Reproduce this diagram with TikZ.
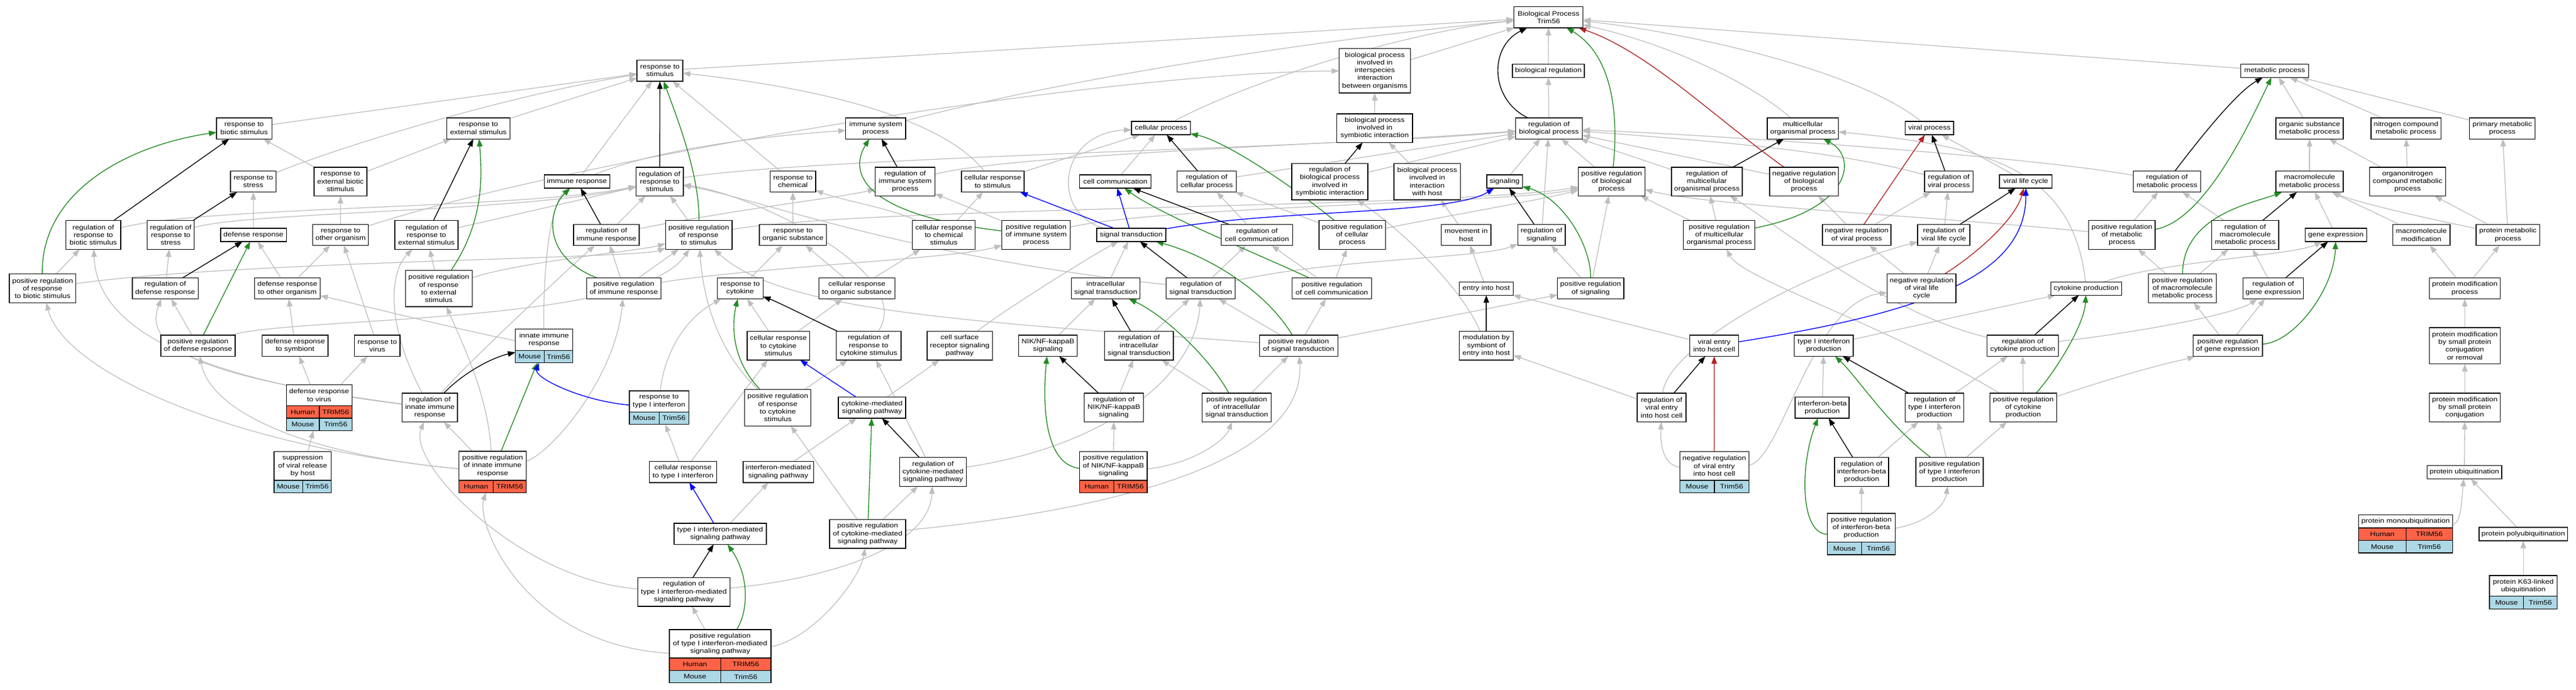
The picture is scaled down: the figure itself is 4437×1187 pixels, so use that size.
\documentclass[tikz,border=0pt]{standalone}
\usepackage{fontspec}
\newfontfamily\gofont{Liberation Sans}[FakeStretch=1.16]
\usetikzlibrary{arrows.meta}
\definecolor{egray}{RGB}{190,190,190}
\definecolor{egreen}{RGB}{34,139,34}
\definecolor{ered}{RGB}{178,34,34}
\definecolor{eblue}{RGB}{0,0,255}
\definecolor{human}{RGB}{255,99,71}
\definecolor{mouse}{RGB}{173,216,230}
\pgfdeclarelayer{edges}
\pgfsetlayers{edges,main}
\tikzset{
  gofontset/.style={font=\gofont\fontsize{11.2}{13.3}\selectfont},
  gobox/.style={draw=black, line width=1.3pt, fill=white, inner sep=0pt, outer sep=0pt, align=center, gofontset},
  gotext/.style={inner sep=0pt, align=center, gofontset},
  gocell/.style={draw=black, line width=1.3pt, inner sep=0pt, outer sep=0pt, minimum height=21.4pt, gofontset},
  ge/.style={draw=egray, line width=1.3pt, -{Triangle[length=13pt,width=9.5pt]}},
  ke/.style={ge, draw=black, line width=1.4pt},
  gre/.style={ge, draw=egreen, line width=1.4pt},
  re/.style={ge, draw=ered, line width=1.4pt},
  be/.style={ge, draw=eblue, line width=1.4pt}
}
\newcommand\GOnode[6]{\node[gobox,minimum width=#4pt,minimum height=#5pt] (#1) at (#2,#3) {#6};}
\newcommand\GOtab[7]{\node[gobox,minimum width=#4pt,minimum height=#5pt] (#1) at (#2,#3) {};\node[gotext] at ([yshift=-#6pt]#1.north) {#7};}
\newcommand\GOrow[7]{\node[gocell,fill=#5,minimum width=#3pt,anchor=north west] at ([yshift=-#2pt]#1.north west) {#6};\node[gocell,fill=#5,minimum width=#4pt,anchor=north east] at ([yshift=-#2pt]#1.north east) {#7};}
\begin{document}
\begin{tikzpicture}[x=1pt,y=-1pt]
\useasboundingbox (0,0) rectangle (4437,1187);
% rank 0-1
\GOnode{root}{2667.2}{29.7}{119}{36.3}{Biological Process\\Trim56}
\GOnode{rstim}{1136.6}{121.7}{79}{36.8}{response to\\stimulus}
\GOnode{bpinter}{2368}{121.7}{122.7}{76.6}{biological process\\involved in\\interspecies\\interaction\\between organisms}
\GOnode{bioreg}{2666.9}{121.9}{124.1}{23}{biological regulation}
\GOnode{metab}{3918}{121.9}{116.5}{23}{metabolic process}
% rank 2
\GOnode{rbs}{420.5}{221}{95.3}{36.3}{response to\\biotic stimulus}
\GOnode{rext}{824}{221}{109.5}{36.3}{response to\\external stimulus}
\GOnode{isp}{1508.4}{221}{103.2}{36.3}{immune system\\process}
\GOnode{cellproc}{1999.7}{220.6}{101.5}{23}{cellular process}
\GOnode{bpsym}{2367.7}{220.6}{130.7}{49.5}{biological process\\involved in\\symbiotic interaction}
\GOnode{rbp}{2668}{221}{115.1}{36.3}{regulation of\\biological process}
\GOnode{multi}{3105.4}{221}{122.6}{36.3}{multicellular\\organismal process}
\GOnode{viralproc}{3323.3}{220.6}{83.4}{23}{viral process}
\GOnode{osmeta}{3978}{221}{116}{36.3}{organic substance\\metabolic process}
\GOnode{ncmeta}{4144.1}{221}{120.4}{36.3}{nitrogen compound\\metabolic process}
\GOnode{primeta}{4310}{221}{113.5}{36.3}{primary metabolic\\process}
% rank 3
\GOnode{rstress}{436.3}{312.6}{78.8}{36.3}{response to\\stress}
\GOnode{rebs}{586.4}{312.6}{91.1}{49.5}{response to\\external biotic\\stimulus}
\GOnode{immr}{993.8}{312.6}{113.2}{23}{immune response}
\GOnode{rrstim}{1136.3}{312.6}{81.2}{49.5}{regulation of\\response to\\stimulus}
\GOnode{rchem}{1365.7}{312.6}{78.4}{36.3}{response to\\chemical}
\GOnode{risp}{1559.1}{312.6}{102.8}{49.5}{regulation of\\immune system\\process}
\GOnode{crstim}{1709.9}{312.6}{108.1}{36.3}{cellular response\\to stimulus}
\GOnode{cellcomm}{1921}{312.6}{122.7}{23}{cell communication}
\GOnode{rcellproc}{2078.5}{312.6}{101.5}{36.3}{regulation of\\cellular process}
\GOnode{rbpsym}{2290.5}{312.6}{131.2}{62.8}{regulation of\\biological process\\involved in\\symbiotic interaction}
\GOnode{bphost}{2458.3}{312.6}{114.7}{62.8}{biological process\\involved in\\interaction\\with host}
\GOnode{signaling}{2591.6}{312.6}{61.4}{23}{signaling}
\GOnode{prbp}{2775.9}{312.6}{114.7}{49.5}{positive regulation\\of biological\\process}
\GOnode{rmulti}{2940}{312.6}{122}{49.5}{regulation of\\multicellular\\organismal process}
\GOnode{nrbp}{3107.4}{312.6}{118.7}{49.5}{negative regulation\\of biological\\process}
\GOnode{rviralproc}{3356.7}{312.6}{83.4}{36.3}{regulation of\\viral process}
\GOnode{vlc}{3489.3}{312.6}{90.6}{23}{viral life cycle}
\GOnode{rmeta}{3732.4}{312.6}{116}{36.3}{regulation of\\metabolic process}
\GOnode{mmeta}{3978}{312.6}{116}{36.3}{macromolecule\\metabolic process}
\GOnode{onmeta}{4146.8}{312.6}{130.7}{49.5}{organonitrogen\\compound metabolic\\process}
% rank 4
\GOnode{rrbs}{160.7}{404.5}{94.8}{49.5}{regulation of\\response to\\biotic stimulus}
\GOnode{rrstress}{294}{404.5}{81.2}{49.5}{regulation of\\response to\\stress}
\GOnode{defr}{436.6}{404.5}{113.3}{23}{defense response}
\GOnode{rtoo}{586.6}{404.5}{96.2}{36.3}{response to\\other organism}
\GOnode{rrext}{734.5}{404.5}{109}{49.5}{regulation of\\response to\\external stimulus}
\GOnode{rimm}{1044.5}{404.5}{112.8}{36.3}{regulation of\\immune response}
\GOnode{prstim}{1203.6}{404.5}{114.7}{49.5}{positive regulation\\of response\\to stimulus}
\GOnode{rorg}{1365.9}{404.5}{115.6}{36.3}{response to\\organic substance}
\GOnode{crchem}{1625.6}{404.5}{107.6}{49.5}{cellular response\\to chemical\\stimulus}
\GOnode{prisp}{1784.7}{404.5}{118}{49.5}{positive regulation\\of immune system\\process}
\GOnode{sigtrans}{1948.5}{404.5}{118.9}{23}{signal transduction}
\GOnode{rcellcomm}{2165}{404.5}{122.6}{36.3}{regulation of\\cell communication}
\GOnode{prcellproc}{2329.2}{404.5}{114.2}{49.5}{positive regulation\\of cellular\\process}
\GOnode{movhost}{2525.3}{404.5}{85.4}{36.3}{movement in\\host}
\GOnode{rsig}{2655.1}{404.5}{81.6}{36.3}{regulation of\\signaling}
\GOnode{prmulti}{2961.3}{404.5}{123}{49.5}{positive regulation\\of multicellular\\organismal process}
\GOnode{nrviralproc}{3198}{404.5}{117.8}{36.3}{negative regulation\\of viral process}
\GOnode{rvlc}{3348}{404.5}{90.2}{36.3}{regulation of\\viral life cycle}
\GOnode{prmeta}{3654.9}{404.5}{114.3}{49.5}{positive regulation\\of metabolic\\process}
\GOnode{rmmeta}{3867.2}{404.5}{115.5}{49.5}{regulation of\\macromolecule\\metabolic process}
\GOnode{geneexp}{4023.3}{404.5}{105.7}{23}{gene expression}
\GOnode{mmod}{4170.5}{404.5}{98.8}{36.3}{macromolecule\\modification}
\GOnode{protmeta}{4319.7}{404.5}{109.6}{36.3}{protein metabolic\\process}
% rank 5
\GOnode{prrbs}{73.4}{496.5}{114.7}{49.5}{positive regulation\\of response\\to biotic stimulus}
\GOnode{rdr}{284.6}{496.5}{113.3}{36.3}{regulation of\\defense response}
\GOnode{drtoo}{495}{496.5}{113.3}{36.3}{defense response\\to other organism}
\GOnode{prrext}{755.8}{496.7}{114.7}{62.8}{positive regulation\\of response\\to external\\stimulus}
\GOnode{primm}{1074.5}{496.5}{128.4}{36.3}{positive regulation\\of immune response}
\GOnode{rcyt}{1274.8}{496.5}{78.8}{36.3}{response to\\cytokine}
\GOnode{cror}{1475.9}{496.5}{130.7}{36.3}{cellular response\\to organic substance}
\GOnode{intrasig}{1904.6}{496.5}{118}{36.3}{intracellular\\signal transduction}
\GOnode{rsigtrans}{2068.3}{496.5}{119}{36.3}{regulation of\\signal transduction}
\GOnode{prcellcomm}{2294}{496.5}{137.3}{36.3}{positive regulation\\of cell communication}
\GOnode{entryhost}{2560}{496.7}{93.4}{23}{entry into host}
\GOnode{prsig}{2739.8}{496.5}{114.2}{36.3}{positive regulation\\of signaling}
\GOnode{nrvlc}{3309.8}{496.5}{118.3}{49.5}{negative regulation\\of viral life\\cycle}
\GOnode{cytprod}{3593.3}{496.7}{122.2}{23}{cytokine production}
\GOnode{prmmeta}{3759}{496.5}{116.5}{49.5}{positive regulation\\of macromolecule\\metabolic process}
\GOnode{rgeneexp}{3915.4}{496.5}{104.3}{36.3}{regulation of\\gene expression}
\GOnode{protmod}{4245.4}{496.5}{122.3}{36.3}{protein modification\\process}
% rank 6
\GOnode{prdr}{341}{595.2}{128}{36.3}{positive regulation\\of defense response}
\GOnode{drsym}{508.3}{595.2}{113.3}{36.3}{defense response\\to symbiont}
\GOnode{rvirus}{649.9}{595.2}{78.3}{36.3}{response to\\virus}
\GOtab{innate}{937.2}{595.75}{99}{57.9}{18.25}{innate immune\\response}
\GOrow{innate}{36.5}{49.5}{49.5}{mouse}{Mouse}{Trim56}
\GOnode{crcyt}{1340.7}{595.2}{107.6}{49.5}{cellular response\\to cytokine\\stimulus}
\GOnode{rrcyt}{1496.1}{595.2}{111.8}{49.5}{regulation of\\response to\\cytokine stimulus}
\GOnode{csrsig}{1653}{595.2}{112.3}{49.5}{cell surface\\receptor signaling\\pathway}
\GOnode{nfkb}{1805}{595.2}{101}{36.3}{NIK/NF-kappaB\\signaling}
\GOnode{rintrasig}{1961.9}{595.2}{118.4}{49.5}{regulation of\\intracellular\\signal transduction}
\GOnode{prsigtrans}{2236.8}{595.2}{135}{36.3}{positive regulation\\of signal transduction}
\GOnode{modentry}{2560}{595.2}{93.4}{49.5}{modulation by\\symbiont of\\entry into host}
\GOnode{viralentry}{2952.6}{595.2}{84}{36.3}{viral entry\\into host cell}
\GOnode{type1prod}{3141.3}{595.2}{101.3}{36.3}{type I interferon\\production}
\GOnode{rcytprod}{3484}{595.2}{122.6}{36.3}{regulation of\\cytokine production}
\GOnode{prgeneexp}{3837.3}{595.2}{119.4}{36.3}{positive regulation\\of gene expression}
\GOnode{protmodsp}{4245.4}{595.3}{122.3}{62.8}{protein modification\\by small protein\\conjugation\\or removal}
% rank 7
\GOtab{drvirus}{549.8}{701.85}{113.2}{78.9}{18.05}{defense response\\to virus}
\GOrow{drvirus}{36.1}{56.9}{56.3}{human}{Human}{TRIM56}
\GOrow{drvirus}{57.5}{56.9}{56.3}{mouse}{Mouse}{Trim56}
\GOnode{rinnate}{740.4}{701.7}{95.2}{49.5}{regulation of\\innate immune\\response}
\GOtab{rtype1}{1135.1}{701.8}{102.4}{57.6}{18.1}{response to\\type I interferon}
\GOrow{rtype1}{36.2}{51.3}{51.1}{mouse}{Mouse}{Trim56}
\GOnode{prrcyt}{1339.7}{701.9}{114.2}{62.8}{positive regulation\\of response\\to cytokine\\stimulus}
\GOnode{cytsig}{1502}{701.8}{116}{36.3}{cytokine-mediated\\signaling pathway}
\GOnode{rnfkb}{1918.5}{701.7}{101.5}{49.5}{regulation of\\NIK/NF-kappaB\\signaling}
\GOnode{printrasig}{2130.2}{701.7}{119}{49.5}{positive regulation\\of intracellular\\signal transduction}
\GOnode{rviralentry}{2862}{701.7}{84}{49.5}{regulation of\\viral entry\\into host cell}
\GOnode{ifnbprod}{3138.6}{701.8}{93}{36.3}{interferon-beta\\production}
\GOnode{rtype1prod}{3332}{701.7}{100.8}{49.5}{regulation of\\type I interferon\\production}
\GOnode{prcytprod}{3485}{701.7}{115}{49.5}{positive regulation\\of cytokine\\production}
\GOnode{protmodsc}{4245.4}{701.7}{122.3}{49.5}{protein modification\\by small protein\\conjugation}
% rank 8
\GOtab{suppression}{521.3}{812.85}{98.7}{70.9}{24.75}{suppression\\of viral release\\by host}
\GOrow{suppression}{49.5}{49.4}{49.3}{mouse}{Mouse}{Trim56}
\GOtab{prinnate}{848.5}{812.65}{116.1}{71.3}{24.95}{positive regulation\\of innate immune\\response}
\GOrow{prinnate}{49.9}{58.9}{57.2}{human}{Human}{TRIM56}
\GOnode{crtype1}{1176.5}{812.7}{116.1}{36.3}{cellular response\\to type I interferon}
\GOnode{ifnsig}{1340.5}{812.7}{121.3}{36.3}{interferon-mediated\\signaling pathway}
\GOnode{rcytsig}{1607}{812.5}{115.6}{49.5}{regulation of\\cytokine-mediated\\signaling pathway}
\GOtab{prnfkb}{1917.8}{812.85}{116.1}{70.9}{24.75}{positive regulation\\of NIK/NF-kappaB\\signaling}
\GOrow{prnfkb}{49.5}{58.5}{57.6}{human}{Human}{TRIM56}
\GOtab{nrviralentry}{2952.7}{812.85}{118.9}{70.9}{24.75}{negative regulation\\of viral entry\\into host cell}
\GOrow{nrviralentry}{49.5}{59.8}{59.1}{mouse}{Mouse}{Trim56}
\GOnode{rifnbprod}{3206.5}{812.5}{93}{49.5}{regulation of\\interferon-beta\\production}
\GOnode{prtype1prod}{3358}{812.5}{116}{49.5}{positive regulation\\of type I interferon\\production}
\GOnode{protubi}{4244.7}{812.7}{128.7}{23}{protein ubiquitination}
% rank 9
\GOnode{type1sig}{1240.4}{919.2}{159}{36.3}{type I interferon-mediated\\signaling pathway}
\GOnode{pcytsig}{1494.5}{919.3}{131}{49.5}{positive regulation\\of cytokine-mediated\\signaling pathway}
\GOtab{prifnbprod}{3206}{919.45}{116.4}{70.9}{24.75}{positive regulation\\of interferon-beta\\production}
\GOrow{prifnbprod}{49.5}{58.7}{57.7}{mouse}{Mouse}{Trim56}
\GOtab{protmono}{4143.4}{919.25}{161.9}{65.3}{11.25}{protein monoubiquitination}
\GOrow{protmono}{22.5}{81.7}{80.2}{human}{Human}{TRIM56}
\GOrow{protmono}{43.9}{81.7}{80.2}{mouse}{Mouse}{Trim56}
\GOnode{protpoly}{4346.2}{919.4}{152.7}{23}{protein polyubiquitination}
% rank 10-11
\GOnode{rtype1sig}{1177.9}{1019.3}{158.5}{49.5}{regulation of\\type I interferon-mediated\\signaling pathway}
\GOtab{k63}{4346.2}{1019.6}{116.5}{57.2}{17.9}{protein K63-linked\\ubiquitination}
\GOrow{k63}{35.8}{58.7}{57.8}{mouse}{Mouse}{Trim56}
\GOtab{prtype1sig}{1240.4}{1129.85}{175.1}{91.9}{24.55}{positive regulation\\of type I interferon-mediated\\signaling pathway}
\GOrow{prtype1sig}{49.1}{88.3}{86.8}{human}{Human}{TRIM56}
\GOrow{prtype1sig}{70.5}{88.3}{86.8}{mouse}{Mouse}{Trim56}

\begin{pgfonlayer}{edges}
\fill[white] (0,0) rectangle (4437,1187);
% ---- gray is_a edges
\draw[ge] (rstim) -- (root);
\draw[ge] (isp) .. controls (1900,120) and (2350,60) .. (root);
\draw[ge] (cellproc) .. controls (2150,140) and (2420,55) .. (root);
\draw[ge] (bpinter) -- (root);
\draw[ge] (bioreg) -- (root);
\draw[ge] (metab) -- (root);
\draw[ge] (multi) .. controls (3000,130) and (2850,70) .. (root);
\draw[ge] (viralproc) .. controls (3200,120) and (2900,55) .. (root);
\draw[ge] (rbp) -- (bioreg);
\draw[ge] (rbs) -- (rstim);
\draw[ge] (rstress) .. controls (620,240) and (900,160) .. (rstim);
\draw[ge] (rext) -- (rstim);
\draw[ge] (immr) -- (rstim);
\draw[ge] (rchem) -- (rstim);
\draw[ge] (crstim) .. controls (1620,200) and (1400,150) .. (rstim);
\draw[ge] (rebs) -- (rbs);
\draw[ge] (rebs) -- (rext);
\draw[ge] (immr) .. controls (1150,250) and (1350,232) .. (isp);
\draw[ge] (crstim) -- (cellproc);
\draw[ge] (cellcomm) -- (cellproc);
\draw[ge] (sigtrans) .. controls (1810,370) and (1820,230) .. (cellproc);
\draw[ge] (rcellproc) -- (rbp);
\draw[ge] (rrstim) .. controls (1400,270) and (2300,255) .. (rbp);
\draw[ge] (risp) .. controls (1750,265) and (2300,250) .. (rbp);
\draw[ge] (rbpsym) -- (rbp);
\draw[ge] (rmulti) -- (rbp);
\draw[ge] (nrbp) -- (rbp);
\draw[ge] (rviralproc) .. controls (3150,255) and (2900,240) .. (rbp);
\draw[ge] (rmeta) .. controls (3500,270) and (3000,235) .. (rbp);
\draw[ge] (signaling) -- (rbp);
\draw[ge] (rsig) -- (rbp);
\draw[ge] (prbp) -- (rbp);
\draw[ge] (bphost) -- (bpsym);
\draw[ge] (bpsym) -- (bpinter);
\draw[ge] (rtoo) .. controls (1000,270) and (1900,125) .. (bpinter);
\draw[ge] (osmeta) -- (metab);
\draw[ge] (ncmeta) -- (metab);
\draw[ge] (primeta) -- (metab);
\draw[ge] (mmeta) -- (osmeta);
\draw[ge] (onmeta) -- (osmeta);
\draw[ge] (onmeta) -- (ncmeta);
\draw[ge] (vlc) -- (viralproc);
\draw[ge] (defr) -- (rstress);
\draw[ge] (rtoo) -- (rebs);
\draw[ge] (rrbs) .. controls (350,355) and (900,360) .. (rrstim);
\draw[ge] (rrstress) .. controls (420,365) and (900,365) .. (rrstim);
\draw[ge] (rrext) -- (rrstim);
\draw[ge] (rimm) -- (rrstim);
\draw[ge] (prstim) -- (rrstim);
\draw[ge] (rsigtrans) .. controls (1550,440) and (1300,340) .. (rrstim);
\draw[ge] (rrcyt) .. controls (1580,470) and (1300,335) .. (rrstim);
\draw[ge] (rimm) .. controls (1300,355) and (1450,340) .. (risp);
\draw[ge] (rorg) -- (rchem);
\draw[ge] (crchem) .. controls (1540,360) and (1450,345) .. (rchem);
\draw[ge] (crchem) -- (crstim);
\draw[ge] (prisp) -- (risp);
\draw[ge] (prisp) .. controls (2000,355) and (2600,350) .. (prbp);
\draw[ge] (prstim) .. controls (1500,355) and (2500,358) .. (prbp);
\draw[ge] (rcellcomm) -- (rcellproc);
\draw[ge] (prcellproc) -- (rcellproc);
\draw[ge] (prcellproc) .. controls (2500,370) and (2650,345) .. (prbp);
\draw[ge] (movhost) -- (bphost);
\draw[ge] (prmulti) -- (rmulti);
\draw[ge] (prmulti) -- (prbp);
\draw[ge] (nrviralproc) -- (nrbp);
\draw[ge] (nrviralproc) -- (rviralproc);
\draw[ge] (rvlc) -- (rviralproc);
\draw[ge] (prmeta) -- (rmeta);
\draw[ge] (prmeta) .. controls (3300,370) and (2950,355) .. (prbp);
\draw[ge] (rmmeta) -- (rmeta);
\draw[ge] (geneexp) -- (mmeta);
\draw[ge] (mmod) -- (mmeta);
\draw[ge] (protmeta) .. controls (4150,370) and (4050,345) .. (mmeta);
\draw[ge] (protmeta) -- (onmeta);
\draw[ge] (protmeta) -- (primeta);
\draw[ge] (prrbs) -- (rrbs);
\draw[ge] (prrbs) .. controls (400,450) and (1100,445) .. (prstim);
\draw[ge] (rdr) -- (rrstress);
\draw[ge] (drtoo) -- (defr);
\draw[ge] (drtoo) -- (rtoo);
\draw[ge] (prrext) -- (rrext);
\draw[ge] (prrext) .. controls (900,450) and (1100,432) .. (prstim);
\draw[ge] (primm) -- (rimm);
\draw[ge] (primm) -- (prstim);
\draw[ge] (primm) .. controls (1300,460) and (1650,445) .. (prisp);
\draw[ge] (rcyt) -- (rorg);
\draw[ge] (cror) -- (rorg);
\draw[ge] (cror) -- (crchem);
\draw[ge] (intrasig) -- (sigtrans);
\draw[ge] (rsigtrans) -- (rcellcomm);
\draw[ge] (rsigtrans) .. controls (2300,445) and (2550,445) .. (rsig);
\draw[ge] (prcellcomm) -- (rcellcomm);
\draw[ge] (prcellcomm) -- (prcellproc);
\draw[ge] (entryhost) -- (movhost);
\draw[ge] (prsig) -- (rsig);
\draw[ge] (prsig) -- (prbp);
\draw[ge] (nrvlc) -- (rvlc);
\draw[ge] (nrvlc) -- (nrviralproc);
\draw[ge] (cytprod) .. controls (3570,280) and (3400,250) .. (multi);
\draw[ge] (cytprod) .. controls (3720,450) and (3950,440) .. (geneexp);
\draw[ge] (prmmeta) -- (rmmeta);
\draw[ge] (prmmeta) -- (prmeta);
\draw[ge] (rgeneexp) -- (rmmeta);
\draw[ge] (protmod) -- (mmod);
\draw[ge] (protmod) -- (protmeta);
\draw[ge] (prdr) -- (rdr);
\draw[ge] (prdr) .. controls (500,545) and (1100,560) .. (prstim);
\draw[ge] (drsym) -- (drtoo);
\draw[ge] (rvirus) -- (rtoo);
\draw[ge] (innate) .. controls (935,450) and (950,350) .. (immr);
\draw[ge] (innate) .. controls (800,570) and (600,520) .. (drtoo);
\draw[ge] (crcyt) -- (rcyt);
\draw[ge] (crcyt) -- (cror);
\draw[ge] (csrsig) .. controls (1720,540) and (1880,440) .. (sigtrans);
\draw[ge] (nfkb) -- (intrasig);
\draw[ge] (rintrasig) -- (rsigtrans);
\draw[ge] (prsigtrans) -- (rsigtrans);
\draw[ge] (prsigtrans) -- (prcellcomm);
\draw[ge] (prsigtrans) -- (prsig);
\draw[ge] (prsigtrans) .. controls (1700,555) and (1350,540) .. (prstim);
\draw[ge] (modentry) .. controls (2520,500) and (2420,400) .. (rbpsym);
\draw[ge] (viralentry) -- (entryhost);
\draw[ge] (type1prod) -- (cytprod);
\draw[ge] (rcytprod) .. controls (3250,540) and (3080,400) .. (rmulti);
\draw[ge] (rcytprod) .. controls (3700,570) and (3850,540) .. (rgeneexp);
\draw[ge] (prgeneexp) -- (rgeneexp);
\draw[ge] (prgeneexp) -- (prmmeta);
\draw[ge] (protmodsp) -- (protmod);
\draw[ge] (drvirus) -- (drsym);
\draw[ge] (drvirus) -- (rvirus);
\draw[ge] (rinnate) .. controls (350,650) and (245,600) .. (rdr);
\draw[ge] (rinnate) .. controls (230,640) and (165,520) .. (rrbs);
\draw[ge] (rinnate) .. controls (790,640) and (960,480) .. (rimm);
\draw[ge] (rinnate) .. controls (665,560) and (670,470) .. (rrext);
\draw[ge] (rtype1) .. controls (1140,640) and (1160,560) .. (rcyt);
\draw[ge] (prrcyt) -- (rrcyt);
\draw[ge] (prrcyt) .. controls (1230,600) and (1210,500) .. (prstim);
\draw[ge] (cytsig) -- (csrsig);
\draw[ge] (rnfkb) -- (rintrasig);
\draw[ge] (printrasig) -- (rintrasig);
\draw[ge] (printrasig) -- (prsigtrans);
\draw[ge] (rviralentry) -- (modentry);
\draw[ge] (rviralentry) .. controls (2870,600) and (3100,470) .. (rvlc);
\draw[ge] (ifnbprod) -- (type1prod);
\draw[ge] (rtype1prod) -- (rcytprod);
\draw[ge] (prcytprod) -- (rcytprod);
\draw[ge] (prcytprod) .. controls (3250,560) and (3000,480) .. (prmulti);
\draw[ge] (prcytprod) .. controls (3700,630) and (3760,620) .. (prgeneexp);
\draw[ge] (suppression) -- (drvirus);
\draw[ge] (prinnate) -- (rinnate);
\draw[ge] (prinnate) .. controls (500,780) and (360,700) .. (prdr);
\draw[ge] (prinnate) .. controls (400,770) and (110,640) .. (prrbs);
\draw[ge] (prinnate) .. controls (950,780) and (1060,650) .. (primm);
\draw[ge] (prinnate) .. controls (840,680) and (800,600) .. (prrext);
\draw[ge] (crtype1) -- (rtype1);
\draw[ge] (crtype1) -- (crcyt);
\draw[ge] (ifnsig) -- (cytsig);
\draw[ge] (rcytsig) -- (rrcyt);
\draw[ge] (rcytsig) .. controls (1900,770) and (2060,650) .. (rsigtrans);
\draw[ge] (prnfkb) -- (rnfkb);
\draw[ge] (prnfkb) .. controls (2050,800) and (2110,760) .. (printrasig);
\draw[ge] (nrviralentry) .. controls (2862,800) and (2860,760) .. (rviralentry);
\draw[ge] (nrviralentry) .. controls (3070,790) and (3120,520) .. (nrvlc);
\draw[ge] (rifnbprod) -- (rtype1prod);
\draw[ge] (prtype1prod) -- (rtype1prod);
\draw[ge] (prtype1prod) -- (prcytprod);
\draw[ge] (protubi) -- (protmodsc);
\draw[ge] (protmodsc) -- (protmodsp);
\draw[ge] (type1sig) -- (ifnsig);
\draw[ge] (pcytsig) -- (rcytsig);
\draw[ge] (pcytsig) -- (prrcyt);
\draw[ge] (pcytsig) .. controls (1900,880) and (2250,800) .. (prsigtrans);
\draw[ge] (prifnbprod) -- (rifnbprod);
\draw[ge] (prifnbprod) .. controls (3320,900) and (3350,870) .. (prtype1prod);
\draw[ge] (protmono) .. controls (4240,900) and (4240,860) .. (protubi);
\draw[ge] (protpoly) -- (protubi);
\draw[ge] (rtype1sig) .. controls (1400,1000) and (1600,950) .. (rcytsig);
\draw[ge] (rtype1sig) .. controls (900,1000) and (700,800) .. (rinnate);
\draw[ge] (k63) -- (protpoly);
\draw[ge] (prtype1sig) -- (rtype1sig);
\draw[ge] (prtype1sig) .. controls (900,1110) and (820,900) .. (prinnate);
\draw[ge] (prtype1sig) .. controls (1400,1100) and (1480,1000) .. (pcytsig);
% ---- black regulates
\draw[ke] (rbp) .. controls (2565,170) and (2565,80) .. (root);
\draw[ke] (rrstim) -- (rstim);
\draw[ke] (rrbs) -- (rbs);
\draw[ke] (rrext) -- (rext);
\draw[ke] (risp) -- (isp);
\draw[ke] (rcellproc) -- (cellproc);
\draw[ke] (rcellcomm) -- (cellcomm);
\draw[ke] (rbpsym) -- (bpsym);
\draw[ke] (rmeta) .. controls (3780,250) and (3850,160) .. (metab);
\draw[ke] (rviralproc) -- (viralproc);
\draw[ke] (rrstress) -- (rstress);
\draw[ke] (rimm) -- (immr);
\draw[ke] (rsig) -- (signaling);
\draw[ke] (rmulti) -- (multi);
\draw[ke] (rvlc) -- (vlc);
\draw[ke] (rmmeta) -- (mmeta);
\draw[ke] (rdr) -- (defr);
\draw[ke] (rsigtrans) -- (sigtrans);
\draw[ke] (rgeneexp) -- (geneexp);
\draw[ke] (rrcyt) .. controls (1420,560) and (1340,520) .. (rcyt);
\draw[ke] (rintrasig) -- (intrasig);
\draw[ke] (modentry) -- (entryhost);
\draw[ke] (rcytprod) -- (cytprod);
\draw[ke] (rinnate) .. controls (800,640) and (850,615) .. (innate);
\draw[ke] (rnfkb) -- (nfkb);
\draw[ke] (rviralentry) -- (viralentry);
\draw[ke] (rtype1prod) -- (type1prod);
\draw[ke] (rcytsig) -- (cytsig);
\draw[ke] (rifnbprod) -- (ifnbprod);
\draw[ke] (rtype1sig) -- (type1sig);
% ---- green positively regulates
\draw[gre] (prbp) .. controls (2790,180) and (2770,90) .. (root);
\draw[gre] (prstim) .. controls (1205,300) and (1165,200) .. (rstim);
\draw[gre] (prrbs) .. controls (70,330) and (220,250) .. (rbs);
\draw[gre] (prrext) .. controls (835,380) and (830,300) .. (rext);
\draw[gre] (prisp) .. controls (1490,370) and (1460,300) .. (isp);
\draw[gre] (prcellproc) .. controls (2200,300) and (2100,240) .. (cellproc);
\draw[gre] (prcellcomm) .. controls (2150,430) and (2000,370) .. (cellcomm);
\draw[gre] (prmulti) .. controls (3190,360) and (3200,270) .. (multi);
\draw[gre] (prmeta) .. controls (3800,380) and (3880,200) .. (metab);
\draw[gre] (prsig) .. controls (2740,420) and (2690,340) .. (signaling);
\draw[gre] (prmmeta) .. controls (3760,370) and (3880,350) .. (mmeta);
\draw[gre] (primm) .. controls (930,440) and (945,360) .. (immr);
\draw[gre] (prdr) -- (defr);
\draw[gre] (prsigtrans) .. controls (2180,500) and (2080,440) .. (sigtrans);
\draw[gre] (prgeneexp) .. controls (3950,590) and (4020,500) .. (geneexp);
\draw[gre] (prrcyt) .. controls (1260,620) and (1260,560) .. (rcyt);
\draw[gre] (printrasig) .. controls (2080,610) and (2000,540) .. (intrasig);
\draw[gre] (prcytprod) .. controls (3540,640) and (3590,560) .. (cytprod);
\draw[gre] (prinnate) -- (innate);
\draw[gre] (prnfkb) .. controls (1800,800) and (1795,700) .. (nfkb);
\draw[gre] (prtype1prod) .. controls (3250,730) and (3200,650) .. (type1prod);
\draw[gre] (pcytsig) -- (cytsig);
\draw[gre] (prifnbprod) .. controls (3100,920) and (3100,800) .. (ifnbprod);
\draw[gre] (prtype1sig) .. controls (1290,1050) and (1290,990) .. (type1sig);
% ---- red negatively regulates
\draw[re] (nrbp) .. controls (2950,200) and (2840,90) .. (root);
\draw[re] (nrviralproc) -- (viralproc);
\draw[re] (nrvlc) .. controls (3400,440) and (3470,380) .. (vlc);
\draw[re] (nrviralentry) -- (viralentry);
% ---- blue part of
\draw[be] (sigtrans) -- (cellcomm);
\draw[be] (sigtrans) -- (crstim);
\draw[be] (sigtrans) .. controls (2200,360) and (2500,370) .. (signaling);
\draw[be] (viralentry) .. controls (3300,540) and (3490,480) .. (vlc);
\draw[be] (rtype1) .. controls (1000,690) and (920,650) .. (innate);
\draw[be] (cytsig) -- (crcyt);
\draw[be] (type1sig) -- (crtype1);
\end{pgfonlayer}
\end{tikzpicture}
\end{document}
